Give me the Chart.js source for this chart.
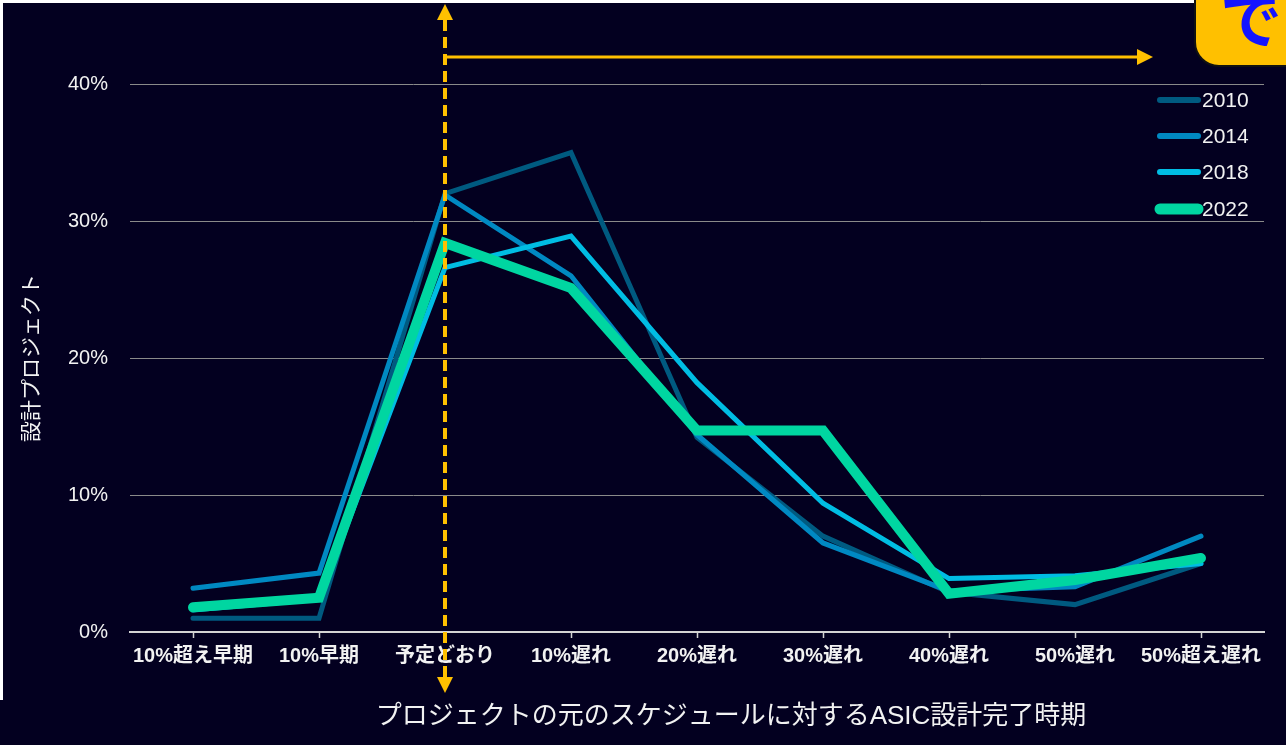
<!DOCTYPE html>
<html>
<head>
<meta charset="utf-8">
<script src="https://cdn.jsdelivr.net/npm/chart.js@4/dist/chart.umd.min.js"></script>
<style>
  html, body { margin: 0; padding: 0; background: #030020; }
  #wrap { position: relative; width: 1286px; height: 745px; }
</style>
</head>
<body>
<div id="wrap"><canvas id="asicChart" width="1286" height="745"></canvas></div>
<script>
// Schedule buckets relative to the original plan
const labels = ['10%超え早期', '10%早期', '予定どおり', '10%遅れ', '20%遅れ', '30%遅れ', '40%遅れ', '50%遅れ', '50%超え遅れ'];

// Share of design projects (%) per survey year
const years = ['2010', '2014', '2018', '2022'];
const y2010 = [1.0, 1.0, 32.0, 35.0, 14.2, 7.0, 2.9, 2.0, 5.0];
const y2014 = [3.2, 4.3, 31.9, 26.0, 14.4, 6.5, 3.0, 3.3, 7.0];
const y2018 = [1.6, 2.4, 26.6, 28.9, 18.2, 9.4, 3.9, 4.1, 5.0];
const y2022 = [1.8, 2.5, 28.4, 25.1, 14.7, 14.7, 2.8, 3.8, 5.4];

const yTicks = [0, 10, 20, 30, 40];
const onSchedule = '予定どおり';

const colors = ['#005a80', '#0089c2', '#00bde3', '#00d6a1'];
const widths = [5, 5, 5, 10];
const series = [y2010, y2014, y2018, y2022];

const FONT = '"Liberation Sans", "Noto Sans CJK JP", sans-serif';
const TEXT = '#f2f2f2';
const ORANGE = '#ffc000';

Chart.defaults.font.family = FONT;

// background plus the thin white edge at top/left
const backdrop = {
    id: 'backdrop',
    beforeDraw(chart) {
        const c = chart.ctx;
        c.save();
        c.fillStyle = '#030020';
        c.fillRect(0, 0, chart.width, chart.height);
        c.fillStyle = '#ffffff';
        c.fillRect(0, 0, chart.width, 3);
        c.fillRect(0, 0, 3, 700);
        c.restore();
    }
};

function arrowHead(c, tipX, tipY, dx, dy, len, half) {
    // dx,dy: unit direction the arrow points to
    const bx = tipX - dx * len, by = tipY - dy * len;
    c.beginPath();
    c.moveTo(tipX, tipY);
    c.lineTo(bx - dy * half, by + dx * half);
    c.lineTo(bx + dy * half, by - dx * half);
    c.closePath();
    c.fill();
}

// orange arrows, legend, x title and the callout box
const overlay = {
    id: 'overlay',
    afterDatasetsDraw(chart) {
        const c = chart.ctx;
        const x = chart.scales.x.getPixelForValue(labels.indexOf(onSchedule));
        c.save();
        c.strokeStyle = ORANGE;
        c.fillStyle = ORANGE;

        // vertical dashed marker through the on-schedule bucket
        c.lineWidth = 4;
        c.setLineDash([11, 6]);
        c.beginPath();
        c.moveTo(x, 20);
        c.lineTo(x, 678);
        c.stroke();
        c.setLineDash([]);
        arrowHead(c, x, 4, 0, -1, 16, 8);
        arrowHead(c, x, 693, 0, 1, 16, 8);

        // horizontal arrow towards the late side
        c.lineWidth = 3;
        c.beginPath();
        c.moveTo(x + 2, 57);
        c.lineTo(1139, 57);
        c.stroke();
        arrowHead(c, 1153, 57, 1, 0, 16, 8);
        c.restore();
    },
    afterDraw(chart) {
        const c = chart.ctx;
        c.save();

        // legend
        const rows = [100, 136, 172, 209];
        c.font = '21px ' + FONT;
        c.textBaseline = 'middle';
        c.textAlign = 'left';
        chart.data.datasets.forEach((ds, i) => {
            c.strokeStyle = ds.borderColor;
            c.lineWidth = ds.borderWidth + 1;
            c.lineCap = 'round';
            c.beginPath();
            c.moveTo(1160, rows[i]);
            c.lineTo(1198, rows[i]);
            c.stroke();
            c.fillStyle = TEXT;
            c.fillText(ds.label, 1202, rows[i] + 1);
        });

        // x axis title
        c.font = '26px ' + FONT;
        c.textAlign = 'center';
        c.fillStyle = TEXT;
        c.fillText('プロジェクトの元のスケジュールに対するASIC設計完了時期', 731, 717);

        // callout box cut off at the corner
        c.beginPath();
        c.roundRect(1195, -40, 200, 106, 24);
        c.fillStyle = ORANGE;
        c.fill();
        c.lineWidth = 2;
        c.strokeStyle = '#111111';
        c.stroke();
        c.font = 'bold 62px "Noto Sans CJK JP", sans-serif';
        c.textAlign = 'left';
        c.fillStyle = '#1414ff';
        c.fillText('です', 1220, 19);
        c.restore();
    }
};

const ctx = document.getElementById('asicChart').getContext('2d');
new Chart(ctx, {
    type: 'line',
    data: {
        labels: labels,
        datasets: series.map((data, i) => ({
            label: years[i],
            data: data,
            borderColor: colors[i],
            backgroundColor: colors[i],
            borderWidth: widths[i],
            pointRadius: 0,
            borderCapStyle: 'round',
            borderJoinStyle: 'miter',
            tension: 0,
            fill: false,
            order: series.length - i
        }))
    },
    options: {
        responsive: false,
        animation: false,
        layout: {
            padding: { top: 84, right: 22, bottom: 0, left: 0 }
        },
        plugins: {
            legend: { display: false },
            tooltip: { enabled: false }
        },
        scales: {
            x: {
                offset: true,
                grid: {
                    offset: false,
                    drawOnChartArea: false,
                    drawTicks: true,
                    tickLength: 6,
                    tickColor: '#d4d4d4',
                    tickWidth: 1.5
                },
                border: { color: '#d4d4d4', width: 2 },
                ticks: {
                    color: TEXT,
                    font: { size: 20, weight: 'bold' },
                    padding: 6,
                    maxRotation: 0,
                    autoSkip: false
                },
                afterFit: s => { s.height = 113; }
            },
            y: {
                min: yTicks[0],
                max: yTicks[yTicks.length - 1],
                afterBuildTicks: s => { s.ticks = yTicks.map(v => ({ value: v })); },
                grid: {
                    color: '#8a8a8a',
                    lineWidth: 1,
                    drawTicks: false
                },
                border: { display: false },
                ticks: {
                    color: TEXT,
                    font: { size: 20 },
                    padding: 22,
                    callback: v => v + '%'
                },
                title: {
                    display: true,
                    text: '設計プロジェクト',
                    color: TEXT,
                    font: { size: 21 },
                    padding: { top: 20, bottom: 0 }
                },
                afterFit: s => { s.width = 130; }
            }
        }
    },
    plugins: [backdrop, overlay]
});
</script>
</body>
</html>
